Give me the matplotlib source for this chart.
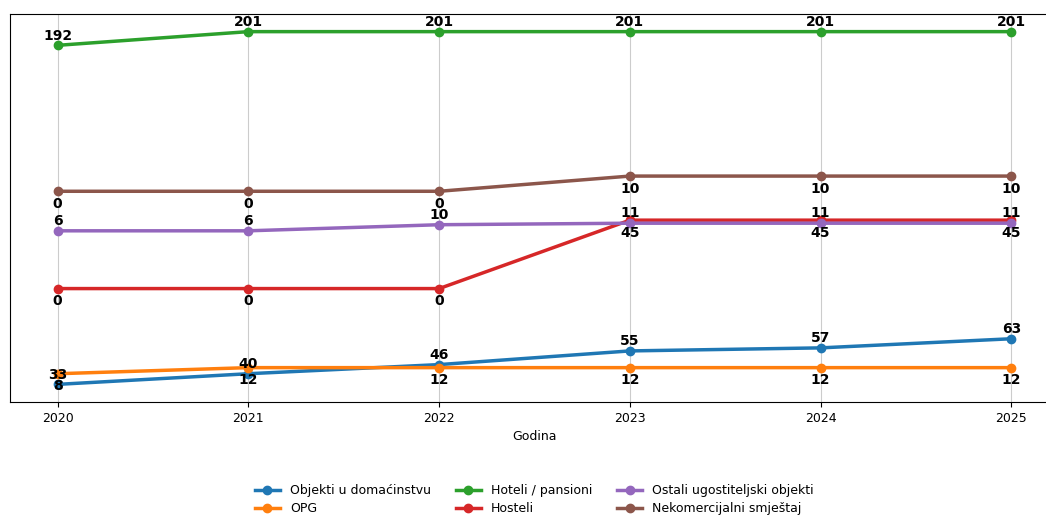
import matplotlib.pyplot as plt

# Podaci
godine = [2020, 2021, 2022, 2023, 2024, 2025]
objekti_domacinstvo = [33, 40, 46, 55, 57, 63]
opg = [8, 12, 12, 12, 12, 12]
hoteli = [192, 201, 201, 201, 201, 201]
hosteli = [0, 0, 0, 45, 45, 45]
ostali = [6, 6, 10, 11, 11, 11]
nekomercijalni = [0, 0, 0, 10, 10, 10]

nazivi = ['Objekti u domaćinstvu', 'OPG', 'Hoteli / pansioni', 'Hosteli',
          'Ostali ugostiteljski objekti', 'Nekomercijalni smještaj']
serije = [objekti_domacinstvo, opg, hoteli, hosteli, ostali, nekomercijalni]
boje = ['#1f77b4', '#ff7f0e', '#2ca02c', '#d62728', '#9467bd', '#8c564b']
pomak = 32  # razmak izmedju linija

fig = plt.figure(figsize=(10.46, 5.16), dpi=100)
ax = fig.add_axes([10 / 1046, 114 / 516, 1049 / 1046, 388 / 516])

for i, (naziv, vrijednosti, boja) in enumerate(zip(nazivi, serije, boje)):
    y = [v + i * pomak for v in vrijednosti]
    ax.plot(godine, y, marker='o', linewidth=2.5, markersize=6, color=boja, label=naziv)
    # oznake vrijednosti - naizmjenicno iznad/ispod
    dy = 7 if i % 2 == 0 else -9
    for g, v, yy in zip(godine, vrijednosti, y):
        ax.annotate(str(v), (g, yy), xytext=(0, dy), textcoords='offset points',
                    ha='center', va='center', fontsize=10, fontweight='bold')

ax.set_xticks(godine)
ax.set_xticklabels([str(g) for g in godine], fontsize=9)
ax.set_yticks([])
ax.set_xlabel('Godina', fontsize=9)
ax.grid(True, axis='x', color='#cccccc')
ax.legend(loc='upper center', bbox_to_anchor=(0.5, -0.183), ncol=3, frameon=False,
          fontsize=9, labelspacing=0.4)

fig.savefig('out.png', dpi=100)
